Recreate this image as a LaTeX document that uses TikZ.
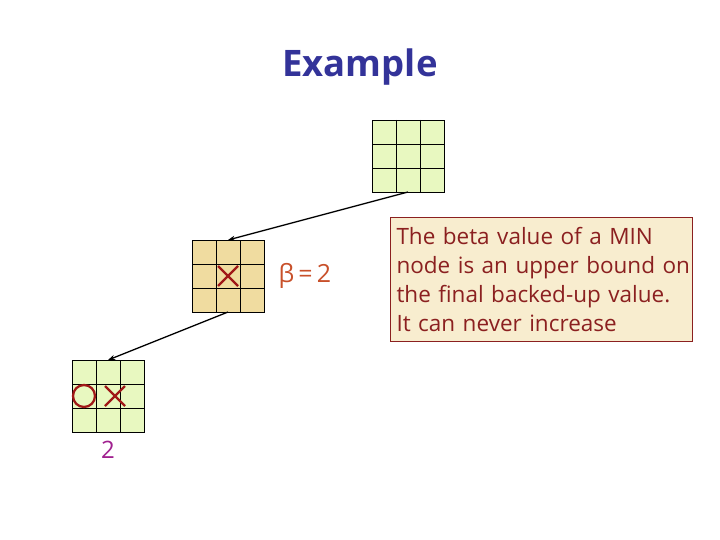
\documentclass[tikz,border=0pt]{standalone}
\usepackage{fontspec}
\setmainfont{Open Sans}
\usetikzlibrary{arrows.meta,positioning,calc}
\definecolor{leafgreen}{HTML}{E8F8C0}
\definecolor{mintan}{HTML}{F0DCA0}
\definecolor{notebg}{HTML}{F8EDCF}
\definecolor{noteline}{HTML}{8B2020}
\definecolor{darkred}{HTML}{A01818}
\definecolor{titleblue}{HTML}{333399}
\definecolor{betaorange}{HTML}{C8502A}
\definecolor{valpurple}{HTML}{A0208F}

% one 3x3 board: name, left, top, fill
\newcommand\board[4]{%
  \node[boardbox, fill=#4] (#1) at (#2+36,#3+36) {};
  \foreach \k in {1,2} {
    \draw[gridline] ($(#1.north west)+(24*\k,0)$) -- ($(#1.south west)+(24*\k,0)$);
    \draw[gridline] ($(#1.north west)+(0,24*\k)$) -- ($(#1.north east)+(0,24*\k)$);
  }
}

\begin{document}
\begin{tikzpicture}[x=1pt, y=-1pt,
  boardbox/.style={draw=black, line width=0.9pt, minimum size=72pt, inner sep=0pt, outer sep=0pt},
  gridline/.style={line width=0.9pt},
  xo/.style={draw=darkred, line width=2.3pt},
  arr/.style={-{Stealth[length=7pt, width=5pt]}, line width=1.3pt}
]
  \useasboundingbox (0,0) rectangle (720,540);

  % title
  \node[text=titleblue, font=\fontsize{36.5}{42}\selectfont\bfseries] (title) at (360,67) {Example};

  % boards
  \board{top}{372}{120}{leafgreen}
  \board{mid}{192}{240}{mintan}
  \board{low}{72}{360}{leafgreen}

  % moves
  \draw[xo] ($(mid.center)+(-10,-10)$) -- ($(mid.center)+(10,10)$);
  \draw[xo] ($(mid.center)+(10,-10)$) -- ($(mid.center)+(-10,10)$);
  \draw[xo] ($(low.center)+(-3,-10)$) -- ($(low.center)+(17,10)$);
  \draw[xo] ($(low.center)+(17,-10)$) -- ($(low.center)+(-3,10)$);
  \draw[xo] ($(low.center)+(-24,0)$) circle[radius=11];

  % values
  \node[text=betaorange, font=\fontsize{25}{28}\selectfont, right=11pt of mid] (beta) {β\,=\,2};
  \node[text=valpurple, font=\fontsize{24}{28}\selectfont, below=6pt of low] (val) {2};

  % note
  \node[draw=noteline, fill=notebg, line width=1pt, text=noteline, anchor=north west,
        minimum width=302pt, minimum height=124pt, text width=298pt, align=left,
        inner xsep=2pt, font=\fontsize{22.5}{29}\selectfont] (note) at (390,217)
    {\hspace*{4pt}The beta value of a MIN\\\hspace*{4pt}node is an upper bound on\\\hspace*{4pt}the final backed-up value.\\\hspace*{4pt}It can never increase};

  \draw[arr] (top.south) -- (mid.north);
  \draw[arr] (mid.south) -- (low.north);
\end{tikzpicture}
\end{document}
